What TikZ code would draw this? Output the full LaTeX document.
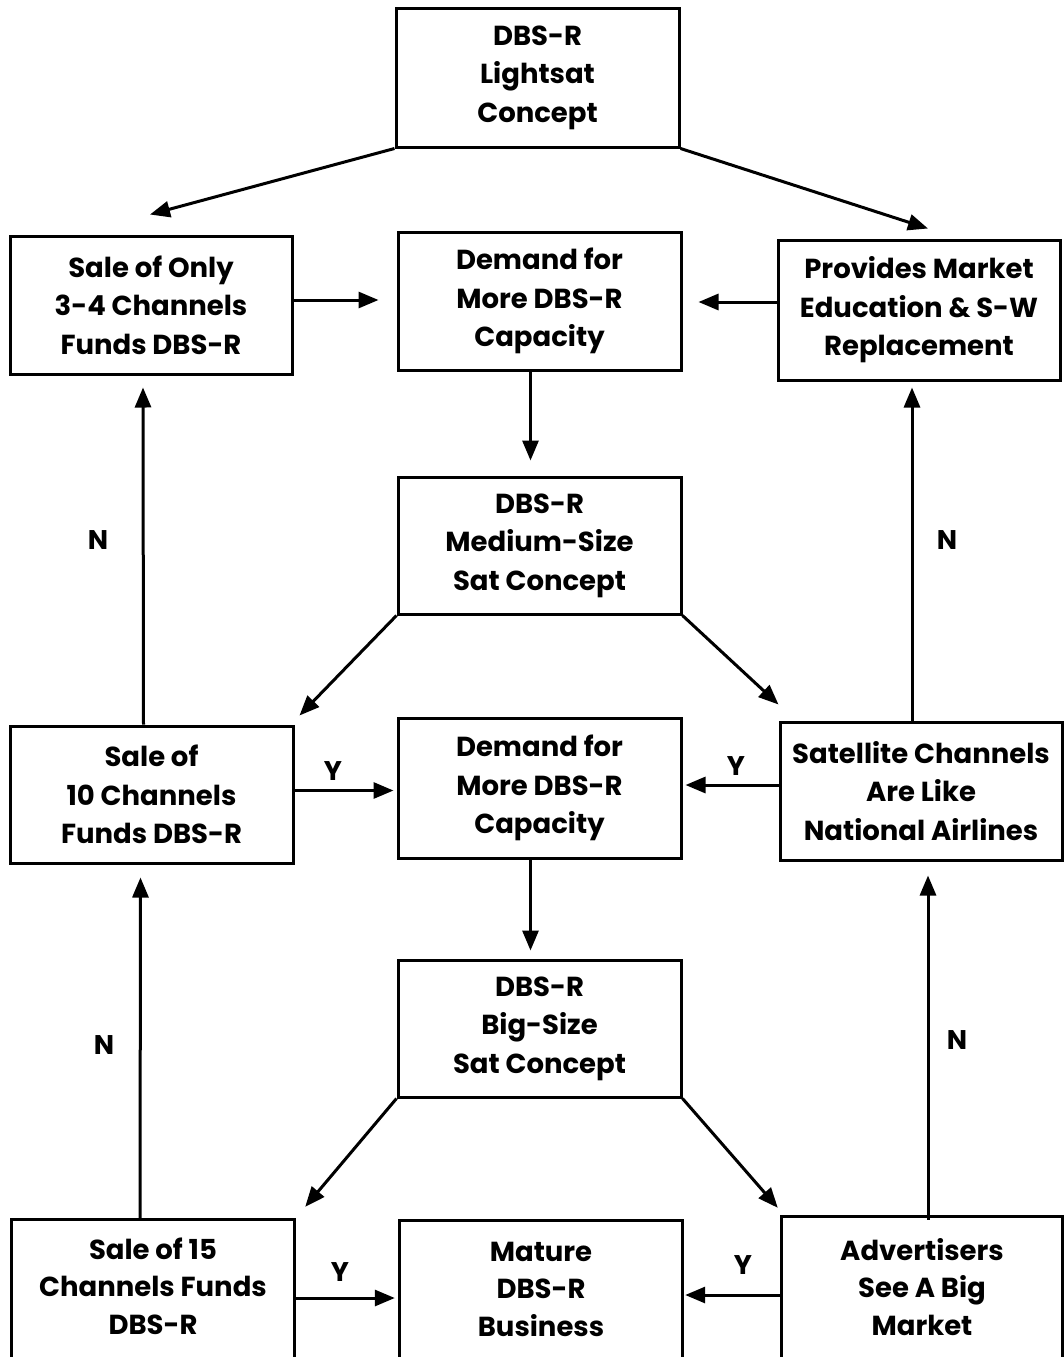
\documentclass[tikz,border=0pt]{standalone}
\usepackage{fontspec}
\setmainfont{Poppins}
\usetikzlibrary{arrows.meta,calc}
\tikzset{
  box/.style={draw,line width=3pt,minimum width=282pt,minimum height=138pt,align=center,inner sep=0pt,
    font=\fontsize{27.5}{38.5}\selectfont\bfseries},
  obox/.style={minimum width=282pt,minimum height=138pt,align=center,inner sep=0pt,
    font=\fontsize{27.5}{37.5}\selectfont\bfseries},
  arr/.style={line width=3pt,-{Triangle[length=20pt,width=16pt]}},
  lab/.style={font=\fontsize{27}{30}\selectfont\bfseries}
}
\begin{document}
\begin{tikzpicture}[x=1pt,y=-1pt]
\useasboundingbox (0,0) rectangle (1063,1357);
\node[box,minimum width=283pt,minimum height=139pt] (top) at (537.5,77.5) {DBS-R\\Lightsat\\Concept};
\node[box] (L1) at (151,305) {Sale of Only\\3-4 Channels\\Funds DBS-R};
\node[box,minimum width=283pt] (C1) at (539.5,301) {Demand for\\More DBS-R\\Capacity};
\node[box,minimum height=140pt] (R1) at (919,310) {Provides Market\\Education \& S-W\\Replacement};
\node[box,minimum width=283pt,minimum height=137pt] (C2) at (539.5,545.5) {DBS-R\\Medium-Size\\Sat Concept};
\node[box,minimum width=283pt,minimum height=137pt] (L3) at (151.5,794.5) {Sale of\\10 Channels\\Funds DBS-R};
\node[box,minimum width=283pt,minimum height=140pt] (C3) at (539.5,788) {Demand for\\More DBS-R\\Capacity};
\node[box] (R3) at (921,791) {Satellite Channels\\Are Like\\National Airlines};
\node[box,minimum width=283pt,minimum height=137pt] (C4) at (539.5,1028.5) {DBS-R\\Big-Size\\Sat Concept};
\node[obox] (L5) at (153,1286) {Sale of 15\\Channels Funds\\DBS-R};
\node[obox] (C5) at (541,1289) {Mature\\DBS-R\\Business};
\node[obox,minimum width=280pt] (R5) at (922,1287) {Advertisers\\See A Big\\Market};
\draw[line width=3pt] ([yshift=-20pt]L5.south west) -- ([yshift=-3pt]L5.north west) -- ([yshift=-3pt]L5.north east) -- ([yshift=-20pt]L5.south east);
\draw[line width=3pt] ([yshift=-20pt]C5.south west) -- ([yshift=-1pt]C5.north west) -- ([yshift=-1pt]C5.north east) -- ([yshift=-20pt]C5.south east);
\draw[line width=3pt] ([yshift=-20pt]R5.south west) -- ([yshift=1pt]R5.north west) -- ([yshift=1pt]R5.north east) -- ([yshift=-20pt]R5.south east);
% arrows
\draw[arr] (top.south west) -- ([xshift=-1pt,yshift=20pt]L1.north);
\draw[arr] (top.south east) -- ([xshift=9pt,yshift=10pt]R1.north);
\draw[arr] ([yshift=5pt]L1.east) -- ([xshift=-18pt,yshift=5pt]C1.west |- L1.east);
\draw[arr] ([yshift=-1pt]R1.west |- C1.east) -- ([xshift=16pt,yshift=-1pt]C1.east);
\draw[arr] ([xshift=-9pt]C1.south) -- ([xshift=-9pt,yshift=15pt]C2.north);
\draw[arr] (C2.south west) -- ([xshift=5pt,yshift=9pt]L3.north east);
\draw[arr] (C2.south east) -- ([yshift=16pt]R3.north west);
\draw[arr] ([xshift=-8pt]L3.north) -- ([xshift=-8pt,yshift=-12pt]L1.south);
\draw[arr] ([xshift=-9pt]R3.north) -- ([xshift=-7pt,yshift=-6pt]R1.south);
\draw[arr] ([yshift=4pt]L3.east) -- ([xshift=-3pt,yshift=4pt]C3.west |- L3.east);
\draw[arr] ([yshift=6pt]R3.west) -- ([xshift=3pt,yshift=6pt]C3.east |- R3.west);
\draw[arr] ([xshift=-9pt]C3.south) -- ([xshift=-9pt,yshift=8pt]C4.north);
\draw[arr] (C4.south west) -- ([xshift=11pt,yshift=10pt]L5.north east);
\draw[arr] (C4.south east) -- ([xshift=-4pt,yshift=10pt]R5.north west);
\draw[arr] ([xshift=-13pt,yshift=-3pt]L5.north) -- ([xshift=-11pt,yshift=-13pt]L3.south);
\draw[arr] ([xshift=6pt,yshift=-2pt]R5.north) -- ([xshift=7pt,yshift=-14pt]R3.south);
\draw[arr] ([yshift=-12pt]L5.east) -- ([xshift=-5pt,yshift=-12pt]C5.west |- L5.east);
\draw[arr] ([yshift=-8pt]R5.west) -- ([xshift=3pt,yshift=-8pt]C5.east |- R5.west);
% labels
\node[lab] (n1) at (98,540) {N};
\node[lab] (n2) at (947,540) {N};
\node[lab] (y1) at (333,771) {Y};
\node[lab] (y2) at (736,766) {Y};
\node[lab] (n3) at (104,1045) {N};
\node[lab] (n4) at (957,1040) {N};
\node[lab] (y3) at (340,1272) {Y};
\node[lab] (y4) at (743,1265) {Y};
\end{tikzpicture}
\end{document}
